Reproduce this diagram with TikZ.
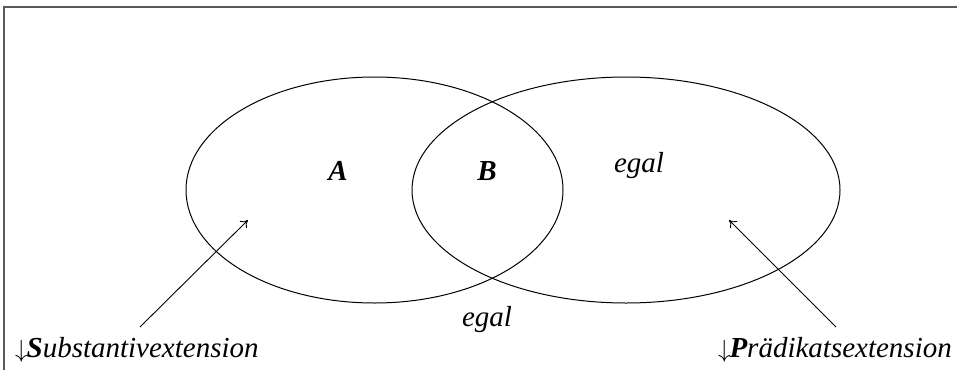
\documentclass[tikz,border=0pt]{standalone}
\usepackage{fontspec}
\setmainfont{Liberation Serif}
\usetikzlibrary{arrows.meta}
\begin{document}
\begin{tikzpicture}[x=1pt,y=-1pt,
  lbl/.style={font=\fontsize{29}{33}\selectfont\itshape, inner sep=0pt},
  set/.style={line width=1pt, black},
  pointer/.style={line width=0.9pt, -{To[length=7pt,width=10pt]}},
  frame/.style={line width=2pt, black!65}]
\useasboundingbox (0,0) rectangle (957,370);
\draw[frame] (4,370) -- (4,6.5) -- (957,6.5);
\draw[set] (374.5,190) ellipse [x radius=188.5, y radius=113];
\draw[set] (626,190) ellipse [x radius=214, y radius=113];
\node[lbl] (A) at (338,171) {\bfseries A};
\node[lbl] (B) at (487,171) {\bfseries B};
\node[lbl] (egal1) at (639,166) {egal};
\node[lbl] (egal2) at (487,320) {egal};
\node[lbl, anchor=base west] (subst) at (15,357) {$\downarrow$\kern-1pt\textbf{S}ubstantivextension};
\node[lbl, anchor=base east] (praed) at (952,357) {$\downarrow$\kern-1pt\textbf{P}rädikatsextension};
\coordinate (t1) at (140,327);
\coordinate (h1) at (248,220);
\coordinate (t2) at (836,327);
\coordinate (h2) at (729,220);
\draw[pointer] (t1) -- (h1);
\draw[pointer] (t2) -- (h2);
\end{tikzpicture}
\end{document}
